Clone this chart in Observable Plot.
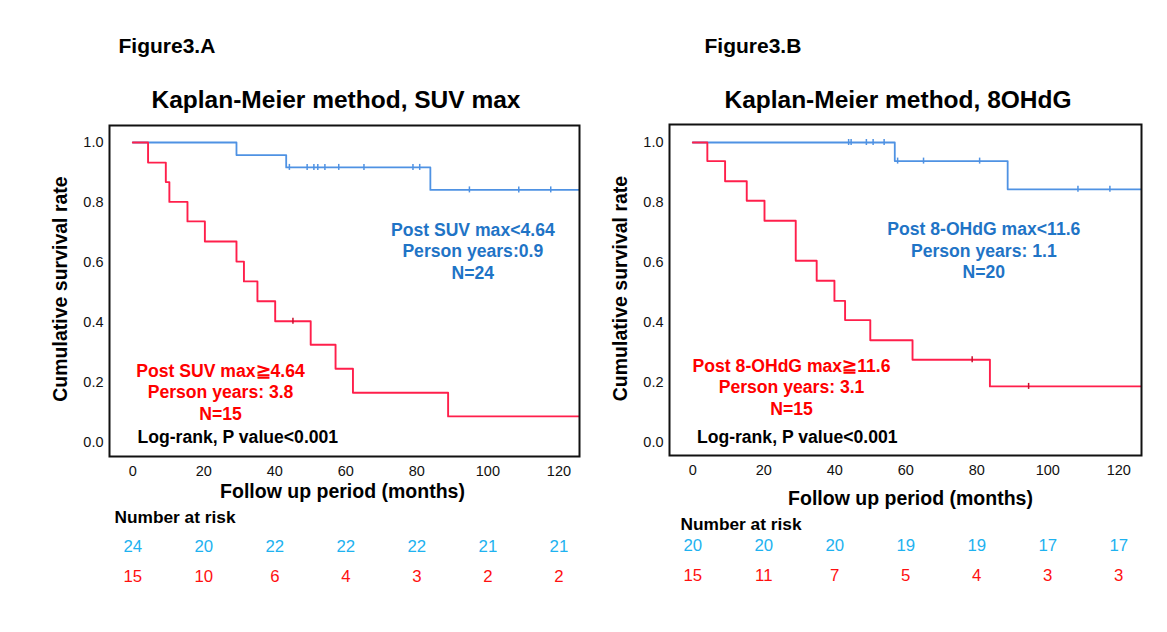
<!DOCTYPE html>
<html>
<head>
<meta charset="utf-8">
<script src="https://cdn.jsdelivr.net/npm/d3@7"></script>
<script src="https://cdn.jsdelivr.net/npm/@observablehq/plot@0.6"></script>
<style>
  html, body { margin: 0; padding: 0; background: #fff; }
  #wrap { position: relative; width: 1167px; height: 632px; background: #fff; overflow: hidden; }
  #A, #B { position: absolute; top: 0; }
  #A { left: 0; }
  #B { left: 583px; }
</style>
</head>
<body>
<div id="wrap"><div id="A"></div><div id="B"></div></div>
<script>
// ---------- data ----------
const monthTicks = [0, 20, 40, 60, 80, 100, 120];
const survTicks = [0, 0.2, 0.4, 0.6, 0.8, 1.0];
const followUpEnd = 130;

// Figure 3.A  SUV max
const aLowTime   = [0, 29.2, 43.2, 83.8];
const aLowSurv   = [1, 0.958, 0.917, 0.842];
const aLowCensor = [44.1, 49.1, 51.0, 52.1, 54.1, 58.0, 65.1, 78.9, 80.8, 94.8, 108.7, 117.7];
const aHighTime  = [0, 4.3, 9.3, 10.3, 15.4, 20.3, 29.2, 31.3, 35.1, 40.1, 50.1, 57.1, 62.0, 88.8];
const aHighSurv  = [1, 0.933, 0.868, 0.802, 0.737, 0.670, 0.603, 0.537, 0.471, 0.404, 0.326, 0.246, 0.166, 0.087];
const aHighCensor = [45.1];
const aRiskLow  = [24, 20, 22, 22, 22, 21, 21];
const aRiskHigh = [15, 10, 6, 4, 3, 2, 2];

// Figure 3.B  8-OHdG
const bLowTime   = [0, 56.9, 88.7];
const bLowSurv   = [1, 0.938, 0.844];
const bLowCensor = [43.9, 44.6, 48.9, 50.8, 53.9, 57.7, 65.0, 80.8, 108.5, 117.5];
const bHighTime  = [0, 4.1, 9.1, 15.2, 20.2, 29.0, 34.9, 39.9, 42.9, 50.0, 61.9, 83.7];
const bHighSurv  = [1, 0.938, 0.871, 0.806, 0.739, 0.606, 0.539, 0.472, 0.408, 0.341, 0.276, 0.187];
const bHighCensor = [78.7, 94.6];
const bRiskLow  = [20, 20, 20, 19, 19, 17, 17];
const bRiskHigh = [15, 11, 7, 5, 4, 3, 3];

// ---------- styling ----------
const FONT = "'Liberation Sans', Arial, Helvetica, sans-serif";
const blueLine = "#4f92e3";
const redLine = "#ff1f4b";
const blueText = "#1f74c6";
const redText = "#ff0000";
const blueRisk = "#1eb2f0";
const redRisk = "#ff1010";

function curve(times, surv) {
  const pts = times.map((t, i) => ({t, s: surv[i]}));
  pts.push({t: followUpEnd, s: surv[surv.length - 1]});
  return pts;
}
function censors(cens, times, surv) {
  return cens.map(t => ({t, s: surv[d3.bisectRight(times, t) - 1]}));
}
function risk(values) {
  return monthTicks.map((t, i) => ({t, n: values[i]}));
}

function label(text, dx, dy, o = {}) {
  return Plot.text([text], {
    text: d => d, frameAnchor: "top-left", lineAnchor: "middle", dx, dy,
    fontWeight: "bold", fontSize: 17.6, fill: "black", textAnchor: "middle", ...o
  });
}

function panel(c) {
  const low = curve(c.lowTime, c.lowSurv), high = curve(c.highTime, c.highSurv);
  const lowC = censors(c.lowCensor, c.lowTime, c.lowSurv);
  const highC = censors(c.highCensor, c.highTime, c.highSurv);
  return Plot.plot({
    width: c.width, height: 632,
    marginLeft: c.ml, marginRight: c.mr, marginTop: c.mt, marginBottom: 632 - c.fb,
    x: {domain: c.xd},
    y: {domain: c.yd},
    style: {fontFamily: FONT, fontSize: "14.5px", background: "white", color: "black", overflow: "visible"},
    marks: [
      Plot.axisX(monthTicks, {tickSize: 0, tickPadding: 9, fontSize: 14.5, label: null, fill: "#111"}),
      Plot.axisY(survTicks, {tickSize: 0, tickPadding: 6, fontSize: 14.5, label: null, tickFormat: d3.format(".1f"), fill: "#111"}),
      Plot.line(low, {x: "t", y: "s", curve: "step-after", stroke: blueLine, strokeWidth: 1.8, clip: true}),
      Plot.line(high, {x: "t", y: "s", curve: "step-after", stroke: redLine, strokeWidth: 1.9, clip: true}),
      Plot.ruleX(lowC, {x: "t", y1: "s", y2: "s", insetTop: -3, insetBottom: -3, stroke: blueLine, strokeWidth: 1.5}),
      Plot.ruleX(highC, {x: "t", y1: "s", y2: "s", insetTop: -3, insetBottom: -3, stroke: "#c8102e", strokeWidth: 1.5}),
      Plot.frame({stroke: "#111", strokeWidth: 2}),
      // risk table
      Plot.text(risk(c.riskLow), {x: "t", text: "n", frameAnchor: "bottom", lineAnchor: "middle", dy: c.riskDy[0], fill: blueRisk, fontSize: 16.8}),
      Plot.text(risk(c.riskHigh), {x: "t", text: "n", frameAnchor: "bottom", lineAnchor: "middle", dy: c.riskDy[1], fill: redRisk, fontSize: 16.8}),
      // texts
      label(c.fig, c.figPos[0], c.figPos[1], {textAnchor: "start", fontSize: 21}),
      label(c.title, c.titlePos[0], c.titlePos[1], {fontSize: 24.5}),
      label("Cumulative survival rate", c.yLabPos[0], c.yLabPos[1], {rotate: -90, fontSize: 19.5}),
      label("Follow up period (months)", c.xLabPos[0], c.xLabPos[1], {fontSize: 19.5}),
      label("Number at risk", c.narPos[0], c.narPos[1], {textAnchor: "start", fontSize: 17.3}),
      label(c.lowText, c.lowPos[0], c.lowPos[1], {fill: blueText, lineHeight: 1.22}),
      label(c.highText, c.highPos[0], c.highPos[1], {fill: redText, lineHeight: 1.22}),
      label("Log-rank, P value<0.001", c.logPos[0], c.logPos[1], {fill: "black"})
    ]
  });
}

document.getElementById("A").append(panel({
  width: 583, ml: 109, mr: 4, mt: 125, fb: 456,
  xd: [-6.56, 125.8], yd: [-0.0467, 1.0567],
  lowTime: aLowTime, lowSurv: aLowSurv, lowCensor: aLowCensor,
  highTime: aHighTime, highSurv: aHighSurv, highCensor: aHighCensor,
  riskLow: aRiskLow, riskHigh: aRiskHigh, riskDy: [90, 120],
  fig: "Figure3.A", figPos: [9, -79],
  title: "Kaplan-Meier method, SUV max", titlePos: [226.5, -25.5],
  yLabPos: [-49, 163.5], xLabPos: [233, 366], narPos: [5, 392],
  lowText: "Post SUV max<4.64\nPerson years:0.9\nN=24", lowPos: [363.3, 125],
  highText: "Post SUV max\u22674.64\nPerson years: 3.8\nN=15", highPos: [111, 266],
  logPos: [128.3, 312.3]
}));

document.getElementById("B").append(panel({
  width: 584, ml: 86, mr: 26, mt: 124, fb: 455,
  xd: [-6.56, 126.4], yd: [-0.0433, 1.06],
  lowTime: bLowTime, lowSurv: bLowSurv, lowCensor: bLowCensor,
  highTime: bHighTime, highSurv: bHighSurv, highCensor: bHighCensor,
  riskLow: bRiskLow, riskHigh: bRiskHigh, riskDy: [90, 120],
  fig: "Figure3.B", figPos: [35, -78],
  title: "Kaplan-Meier method, 8OHdG", titlePos: [228.5, -24.5],
  yLabPos: [-49, 164], xLabPos: [241, 374], narPos: [11, 400],
  lowText: "Post 8-OHdG max<11.6\nPerson years: 1.1\nN=20", lowPos: [314.3, 125.3],
  highText: "Post 8-OHdG max\u226711.6\nPerson years: 3.1\nN=15", highPos: [122, 261.7],
  logPos: [127.7, 312.7]
}));
</script>
</body>
</html>
